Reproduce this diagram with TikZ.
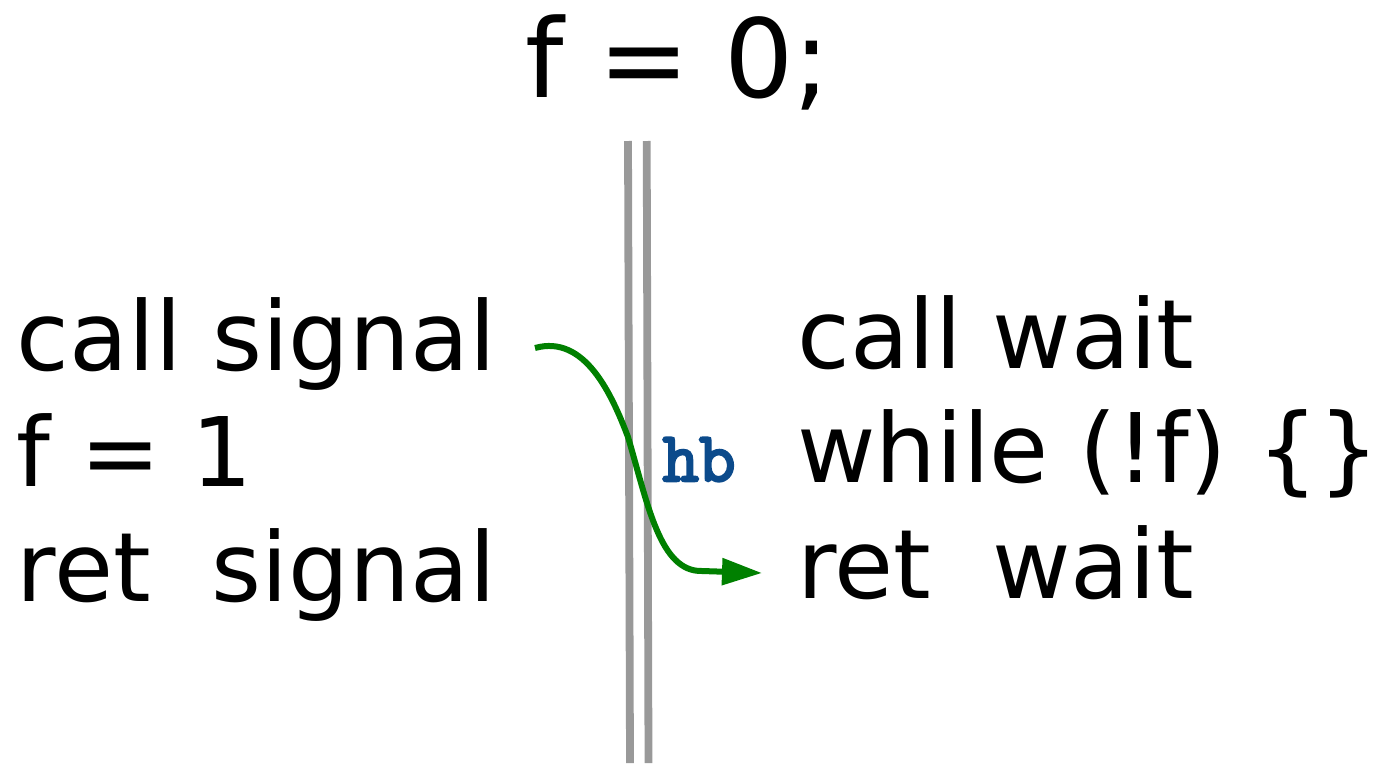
\documentclass[tikz,border=0pt]{standalone}
\usepackage{fontspec}
\setmainfont{DejaVu Sans}
\newfontfamily\hbfont{Latin Modern Mono}[FakeBold=3.5]
\usetikzlibrary{arrows.meta}
\definecolor{rail}{HTML}{999999}
\definecolor{hbblue}{HTML}{0B4A8B}
\definecolor{hbgreen}{HTML}{008000}
\begin{document}
\begin{tikzpicture}[x=1pt,y=-1pt,
  code/.style={anchor=base west,inner sep=0pt,font=\fontsize{96}{115}\selectfont},
  title/.style={anchor=base,inner sep=0pt,font=\fontsize{109}{130}\selectfont},
  railline/.style={draw=rail,line width=7.8pt},
  hblabel/.style={anchor=base,inner sep=0pt,text=hbblue,font=\hbfont\fontsize{71}{75}\selectfont},
  hbarrow/.style={draw=hbgreen,line width=6pt,-{Triangle[length=40pt,width=26pt]}}]
\useasboundingbox (0,0) rectangle (1375,763);
% title
\node[title] (t) at (678,97) {f = 0;};
% rails
\coordinate (r1a) at (628,141);
\coordinate (r1b) at (630,763);
\coordinate (r2a) at (646.7,141);
\coordinate (r2b) at (648.5,763);
\draw[railline] (r1a) -- (r1b);
\draw[railline] (r2a) -- (r2b);
% left thread
\node[code] (cs) at (16.5,370) {call signal};
\node[code] (f1) at (16.5,486) {f = 1};
\node[code] (rs) at (16.5,601) {ret\ \ signal};
% right thread
\node[code] (cw) at (797,368) {call wait};
\node[code] (wh) at (797,482) {while (!f) \{\}};
\node[code] (rw) at (797,598) {ret\ \ wait};
% hb edge
\coordinate (s) at (535,348);
\coordinate (m) at (628,437);
\coordinate (e) at (762,573);
\draw[hbarrow] (s) .. controls (585,334) and (612,395) .. (m)
   .. controls (648,505) and (660,572) .. (702,571) -- (e);
\node[hblabel] (hb) at (699,481) {hb};
\end{tikzpicture}
\end{document}
